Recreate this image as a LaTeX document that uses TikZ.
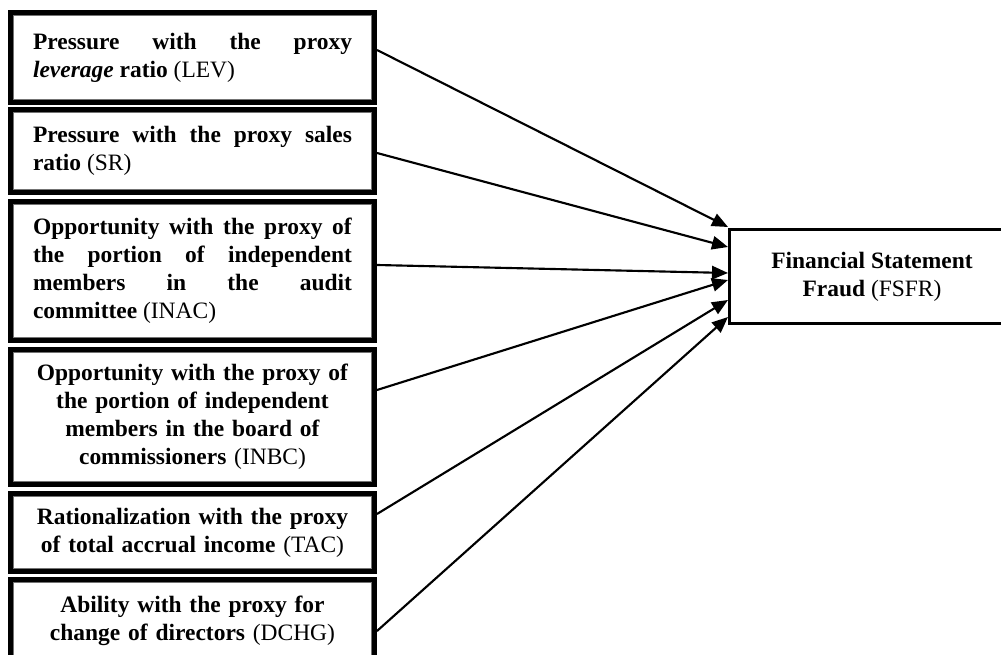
\documentclass[tikz,border=0pt]{standalone}
\usepackage{fontspec}
\setmainfont{Liberation Serif}
\usetikzlibrary{arrows.meta, calc}
\hbadness=10000

\begin{document}
\begin{tikzpicture}[x=0.75pt, y=-0.75pt,
  every node/.style={font=\fontsize{17.6}{21}\selectfont},
  factor/.style={draw, line width=3.75pt, minimum width=273pt,
                 text width=239.25pt, inner sep=0pt},
  just/.style={factor, align=justify},
  mid/.style={factor, align=center},
  frame/.style={draw=black!55, line width=0.6pt},
  fraud/.style={draw, line width=2.25pt, minimum width=213.75pt,
                minimum height=70.5pt, align=center},
  cause/.style={-{Triangle[length=12pt,width=10pt]}, line width=1.6pt},
]
\useasboundingbox (0,0) rectangle (1001,655);
\clip (0,0) rectangle (1001,655);

\node[just, minimum height=67.5pt]  (lev)  at (192.5,57.5)
  {\textbf{Pressure with the proxy}\linebreak \textbf{\textit{leverage} ratio} (LEV)};
\node[just, minimum height=62.25pt] (sr)   at (192.5,151)
  {\textbf{Pressure with the proxy sales}\linebreak \textbf{ratio} (SR)};
\node[just, minimum height=104.25pt] (inac) at (192.5,271)
  {\textbf{Opportunity with the proxy of}\linebreak \textbf{the portion of independent}\linebreak
   \textbf{members in the audit}\linebreak \textbf{committee} (INAC)};
\node[mid, minimum height=101.25pt] (inbc) at (192.5,417)
  {\textbf{Opportunity with the proxy of}\\ \textbf{the portion of independent}\\
   \textbf{members in the board of}\\ \textbf{commissioners} (INBC)};
\node[mid, minimum height=58.5pt]   (tac)  at (192.5,532.5)
  {\textbf{Rationalization with the proxy}\\ \textbf{of total accrual income} (TAC)};
\node[mid, minimum height=62.25pt]  (dchg) at (192.5,621)
  {\textbf{Ability with the proxy for}\\ \textbf{change of directors} (DCHG)};
\node[fraud] (fsfr) at (872,276.5)
  {\textbf{Financial Statement}\\ \textbf{Fraud} (FSFR)};

% thin inner line of the framed boxes
\foreach \n in {lev,sr,inac,inbc,tac,dchg}
  \draw[frame] ([shift={(4.4pt,-4.4pt)}]\n.north west) rectangle ([shift={(-4.4pt,4.4pt)}]\n.south east);

\draw[cause] ($(lev.east)+(0,-7.5)$)   -- ($(fsfr.west)+(0,-49.5)$);
\draw[cause] ($(sr.east)+(0,2)$)       -- ($(fsfr.west)+(0,-29.5)$);
\draw[cause] ($(inac.east)+(0,-6)$)    -- ($(fsfr.west)+(0,-3.5)$);
\draw[cause] ($(inbc.east)+(0,-27)$)   -- ($(fsfr.west)+(0,3.5)$);
\draw[cause] ($(tac.east)+(0,-18.5)$)  -- ($(fsfr.west)+(0,23.5)$);
\draw[cause] ($(dchg.east)+(0,10)$)    -- ($(fsfr.west)+(0,40.5)$);

\end{tikzpicture}
\end{document}
